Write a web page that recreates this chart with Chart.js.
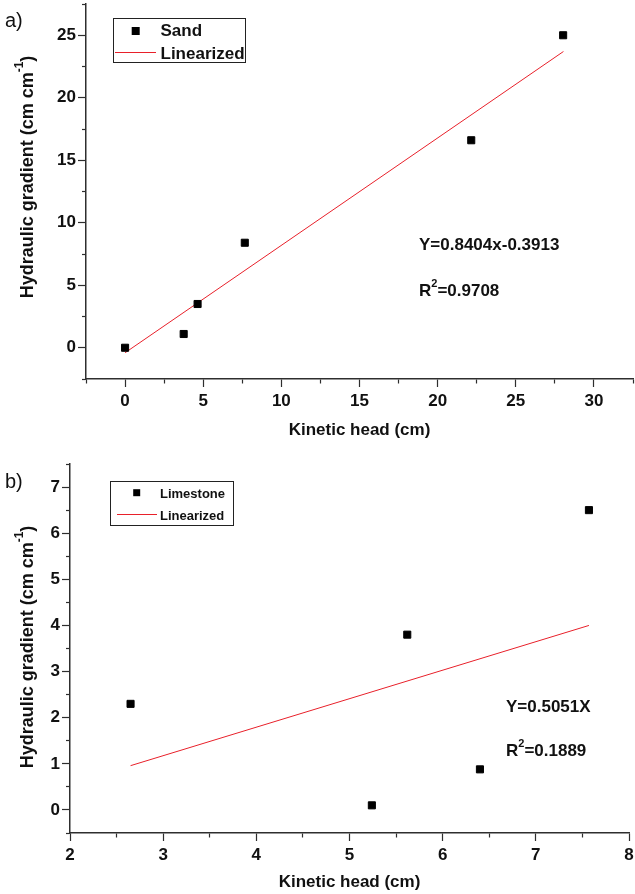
<!DOCTYPE html>
<html>
<head>
<meta charset="utf-8">
<script src="https://cdn.jsdelivr.net/npm/chart.js@4.4.1/dist/chart.umd.min.js"></script>
<style>
  html, body { margin: 0; padding: 0; background: #fff; }
  #wrap { position: relative; width: 635px; height: 894px; overflow: hidden; }
  #wrap canvas { position: absolute; left: 0; }
  #chartA { top: 0; }
  #chartB { top: 440px; }
</style>
</head>
<body>
<div id="wrap">
  <canvas id="chartA" width="635" height="445"></canvas>
  <canvas id="chartB" width="635" height="454"></canvas>
</div>
<script>
// ---- panel a : sand ----
const sandX = [0, 3.75, 4.64, 7.66, 22.15, 28.03];
const sandY = [0, 1.1, 3.5, 8.4, 16.6, 25.0];
const sandFitX = [0, 28.05];
const sandFitY = [-0.4, 23.7];
const sandXLabels = [0, 5, 10, 15, 20, 25, 30];
const sandYLabels = [0, 5, 10, 15, 20, 25];
const sandEq = ['Y=0.8404x-0.3913', '0.9708'];

// ---- panel b : limestone ----
const limeX = [2.65, 5.24, 5.62, 6.4, 7.57];
const limeY = [2.3, 0.1, 3.8, 0.88, 6.5];
const limeFitX = [2.65, 7.57];
const limeFitY = [0.96, 4.0];
const limeXLabels = [2, 3, 4, 5, 6, 7, 8];
const limeYLabels = [0, 1, 2, 3, 4, 5, 6, 7];
const limeEq = ['Y=0.5051X', '0.1889'];

const FONT = 'Arial, "Liberation Sans", sans-serif';
const AXIS = '#2e2e2e';
const INK = '#111';
const RED = '#e8202a';

function pts(xs, ys) {
  return xs.map((x, i) => ({ x: x, y: ys[i] }));
}
function inList(list, v) {
  return list.some(t => Math.abs(t - v) < 1e-6);
}

// text with superscript pieces: parts = [[text, sup], ...]
function drawParts(ctx, parts, x, y, size, measureOnly) {
  let w = 0;
  parts.forEach(([t, sup]) => {
    const s = sup ? Math.round(size * 0.65) : size;
    ctx.font = 'bold ' + s + 'px ' + FONT;
    if (!measureOnly) ctx.fillText(t, x + w, sup ? y - size * 0.55 : y);
    w += ctx.measureText(t).width;
  });
  return w;
}

const decor = {
  id: 'decor',
  afterDraw(chart, args, o) {
    const ctx = chart.ctx;
    ctx.save();
    ctx.fillStyle = INK;
    ctx.textBaseline = 'alphabetic';
    ctx.textAlign = 'left';

    // panel letter
    ctx.font = '20px ' + FONT;
    ctx.fillText(o.panel, o.panelAt[0], o.panelAt[1]);

    // fit equation + R^2
    drawParts(ctx, [[o.eq[0], false]], o.eqAt[0], o.eqAt[1], 17);
    drawParts(ctx, [['R', false], ['2', true], ['=' + o.eq[1], false]], o.eqAt[0], o.eqAt[1] + o.eqGap, 17);

    // y axis title, rotated
    const yParts = [['Hydraulic gradient (cm cm', false], ['-1', true], [')', false]];
    ctx.save();
    ctx.translate(o.yTitleAt[0], o.yTitleAt[1]);
    ctx.rotate(-Math.PI / 2);
    const tw = drawParts(ctx, yParts, 0, 0, 18, true);
    drawParts(ctx, yParts, -tw / 2, 0, 18);
    ctx.restore();

    // legend
    const L = o.legend;
    ctx.strokeStyle = '#222';
    ctx.lineWidth = 1;
    ctx.strokeRect(L.box[0] + 0.5, L.box[1] + 0.5, L.box[2], L.box[3]);
    const ds = chart.data.datasets;
    ctx.fillStyle = '#000';
    ctx.fillRect(L.marker[0] - L.ms / 2, L.marker[1] - L.ms / 2, L.ms, L.ms);
    ctx.strokeStyle = ds[1].borderColor;
    ctx.beginPath();
    ctx.moveTo(L.line[0], L.line[2] + 0.5);
    ctx.lineTo(L.line[1], L.line[2] + 0.5);
    ctx.stroke();
    ctx.fillStyle = INK;
    ctx.font = 'bold ' + L.size + 'px ' + FONT;
    ctx.fillText(ds[0].label, L.textX, L.base[0]);
    ctx.fillText(ds[1].label, L.textX, L.base[1]);
    ctx.restore();
  }
};

function axisCfg(min, max, step, labels, boxSize, horizontal, title) {
  const cfg = {
    type: 'linear',
    min: min,
    max: max,
    afterFit: s => {
      // fixed box size, no label overhang padding
      if (horizontal) s.height = boxSize; else s.width = boxSize;
      s.paddingTop = 0; s.paddingBottom = 0; s.paddingLeft = 0; s.paddingRight = 0;
    },
    border: { display: true, color: AXIS, width: 1.5 },
    grid: {
      drawOnChartArea: false,
      drawTicks: true,
      tickLength: 8,
      tickColor: AXIS,
      tickWidth: 1.2,
      tickBorderDash: c => (c.tick && !inList(labels, c.tick.value)) ? (horizontal ? [4, 20] : [4, 4]) : [],
      tickBorderDashOffset: c => (c.tick && !inList(labels, c.tick.value) && !horizontal) ? 4 : 0
    },
    ticks: {
      stepSize: step,
      autoSkip: false,
      maxRotation: 0,
      padding: horizontal ? 4 : 2,
      color: INK,
      font: { family: FONT, size: 17, weight: 'bold' },
      callback: v => inList(labels, v) ? String(v) : ''
    }
  };
  if (title) {
    cfg.title = {
      display: true,
      text: title.text,
      color: INK,
      font: { family: FONT, size: 17, weight: 'bold' },
      padding: { top: 0, bottom: title.pad }
    };
  }
  return cfg;
}

function makeChart(id, d) {
  return new Chart(document.getElementById(id), {
    type: 'scatter',
    data: {
      datasets: [
        {
          label: d.name,
          data: pts(d.x, d.y),
          pointStyle: 'rect',
          pointRadius: 5,
          pointBackgroundColor: '#000',
          pointBorderColor: '#000',
          pointBorderWidth: 1,
          showLine: false
        },
        {
          label: 'Linearized',
          data: pts(d.fitX, d.fitY),
          showLine: true,
          borderColor: RED,
          borderWidth: 1,
          pointRadius: 0
        }
      ]
    },
    options: {
      responsive: false,
      animation: false,
      layout: { autoPadding: false, padding: d.padding },
      scales: {
        x: axisCfg(d.xr[0], d.xr[1], d.xStep, d.xLabels, d.xBox, true, { text: 'Kinetic head (cm)', pad: d.titlePad }),
        y: axisCfg(d.yr[0], d.yr[1], d.yStep, d.yLabels, d.yBox, false)
      },
      plugins: {
        legend: { display: false },
        tooltip: { enabled: false },
        decor: d.decor
      }
    },
    plugins: [decor]
  });
}

makeChart('chartA', {
  name: 'Sand', x: sandX, y: sandY, fitX: sandFitX, fitY: sandFitY,
  xr: [-2.5, 32.5], yr: [-2.5, 27.5], xStep: 2.5, yStep: 2.5,
  xLabels: sandXLabels, yLabels: sandYLabels,
  xBox: 66, yBox: 86, titlePad: 4,
  padding: { top: 4, right: 2, left: 0, bottom: 0 },
  decor: {
    panel: 'a)', panelAt: [5, 27],
    eq: sandEq, eqAt: [419, 250], eqGap: 46,
    yTitleAt: [32.5, 177],
    legend: { box: [113, 18, 132, 44], marker: [135.7, 31], ms: 8, line: [115, 156, 52],
              textX: 160.5, base: [36, 58.5], size: 17 }
  }
});

makeChart('chartB', {
  name: 'Limestone', x: limeX, y: limeY, fitX: limeFitX, fitY: limeFitY,
  xr: [2, 8], yr: [-0.5, 7.5], xStep: 0.5, yStep: 0.5,
  xLabels: limeXLabels, yLabels: limeYLabels,
  xBox: 61, yBox: 70, titlePad: 1,
  padding: { top: 24, right: 6, left: 0, bottom: 0 },
  decor: {
    panel: 'b)', panelAt: [5, 48],
    eq: limeEq, eqAt: [506, 272], eqGap: 44,
    yTitleAt: [32.5, 207],
    legend: { box: [110, 41, 123, 44], marker: [136.7, 52.7], ms: 7, line: [117, 157, 74],
              textX: 160, base: [58, 79.5], size: 13 }
  }
});
</script>
</body>
</html>
